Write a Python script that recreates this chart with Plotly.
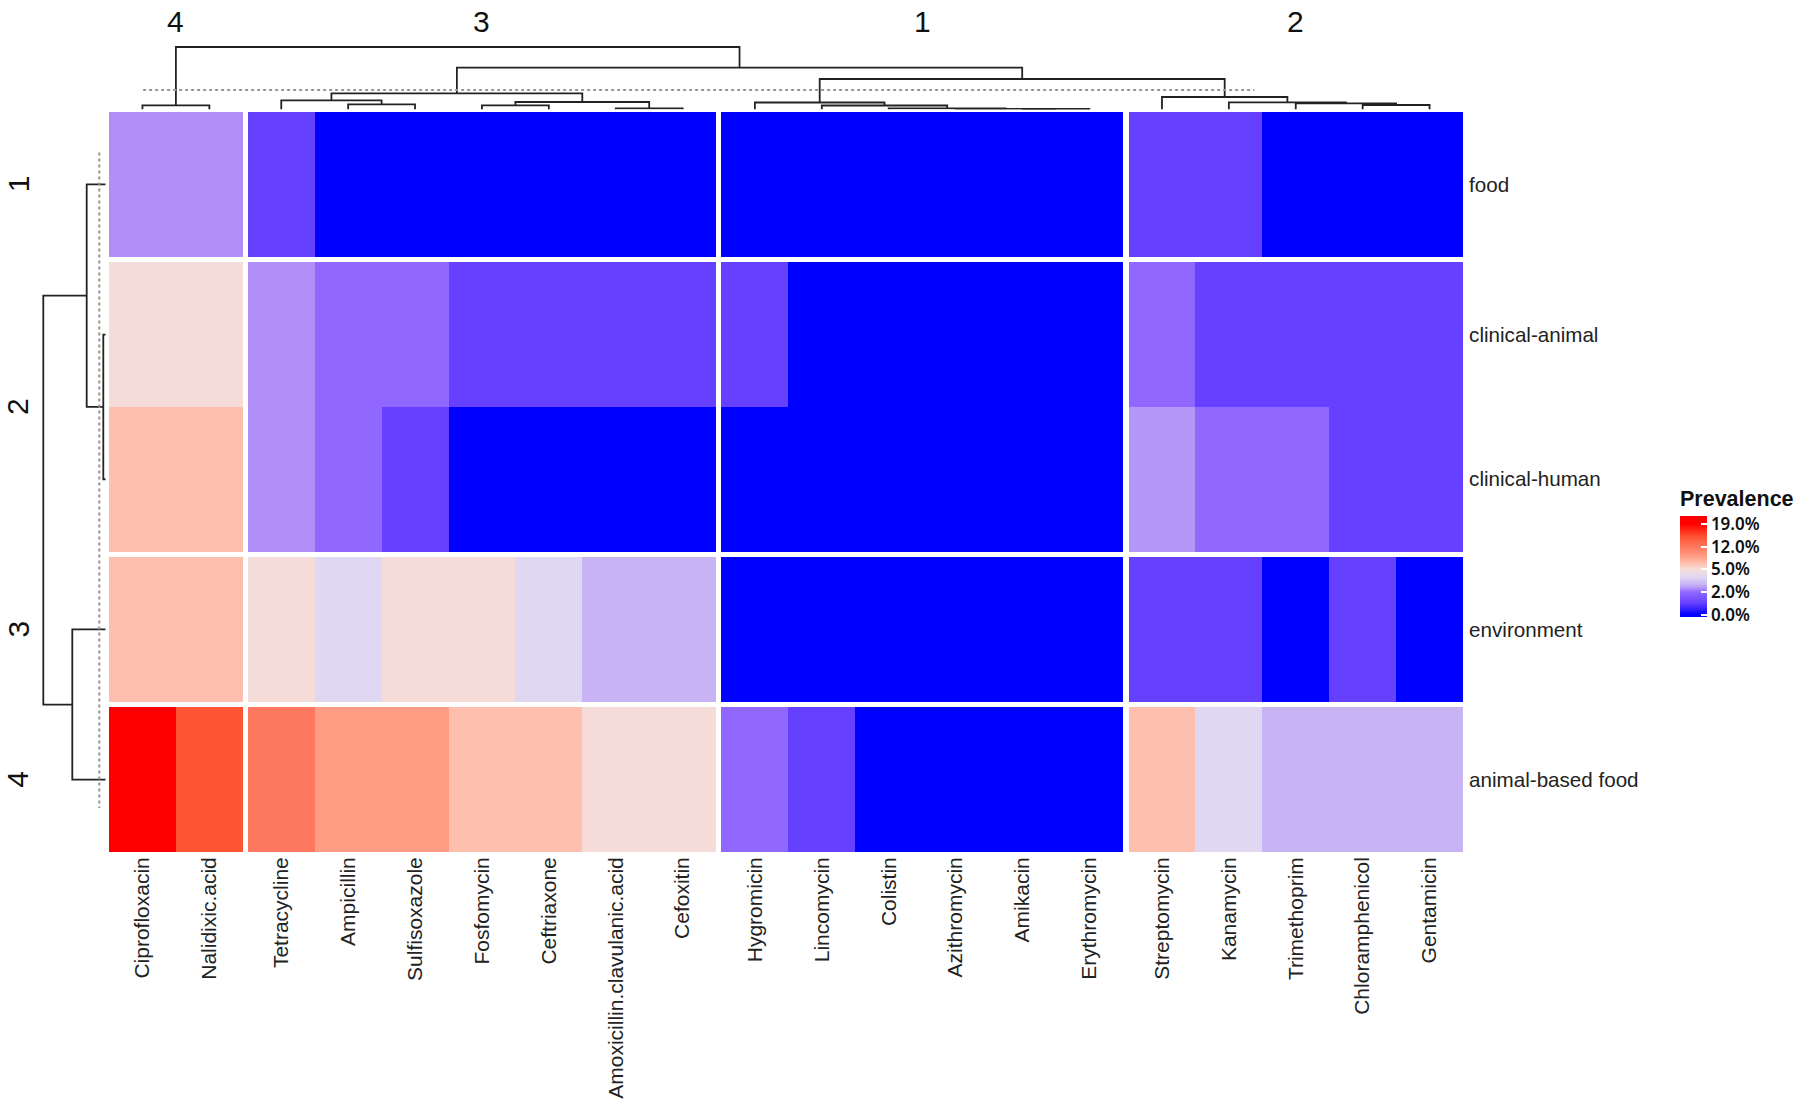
import numpy as np
import plotly.graph_objects as go

# Column and row names, in drawing order
antibiotics = ["Ciprofloxacin", "Nalidixic.acid", "Tetracycline", "Ampicillin", "Sulfisoxazole",
               "Fosfomycin", "Ceftriaxone", "Amoxicillin.clavulanic.acid", "Cefoxitin",
               "Hygromicin", "Lincomycin", "Colistin", "Azithromycin", "Amikacin", "Erythromycin",
               "Streptomycin", "Kanamycin", "Trimethoprim", "Chloramphenicol", "Gentamicin"]
sources = ["food", "clinical-animal", "clinical-human", "environment", "animal-based food"]

# Prevalence (%)
food = [2.5, 2.5, 1, 0, 0, 0, 0, 0, 0, 0, 0, 0, 0, 0, 0, 1, 1, 0, 0, 0]
clinical_animal = [5, 5, 2.5, 2, 2, 1, 1, 1, 1, 1, 0, 0, 0, 0, 0, 2, 1, 1, 1, 1]
clinical_human = [7, 7, 2.5, 2, 1, 0, 0, 0, 0, 0, 0, 0, 0, 0, 0, 2.6, 2, 2, 1, 1]
environment = [7, 7, 5, 4, 5, 5, 4, 3, 3, 0, 0, 0, 0, 0, 0, 1, 1, 0, 1, 0]
animal_food = [19, 15, 12, 9, 9, 7, 7, 5, 5, 2, 1, 0, 0, 0, 0, 7, 4, 3, 3, 3]
prevalence = [food, clinical_animal, clinical_human, environment, animal_food]

# Cluster splits
col_split_sizes = [2, 7, 6, 5]
col_split_labels = ["4", "3", "1", "2"]
row_split_sizes = [1, 2, 1, 1]
row_split_labels = ["1", "2", "3", "4"]

# Dendrograms: child a, child b, merge height. New nodes are numbered after the leaves.
col_merge_a = [0, 3, 2, 5, 7, 23, 22, 13, 12, 11, 10, 9, 18, 17, 16, 15, 31, 26, 20]
col_merge_b = [1, 4, 21, 6, 8, 24, 25, 14, 27, 28, 29, 30, 19, 32, 33, 34, 35, 36, 37]
col_merge_h = [4.2, 5.2, 9.2, 4.2, 1.2, 7.5, 16.2, 0.5, 0.7, 1.2, 4, 7, 4.5, 6.2, 7.2, 12.5, 30.5, 41.8, 62.5]
row_merge_a = [1, 0, 3, 6]
row_merge_b = [2, 5, 4, 7]
row_merge_h = [2.4, 19, 33.4, 62.4]
col_cut_h = 19.5
col_cut_span = [0.51, 17.12]
row_cut_h = 6.4
row_cut_span = [0.28, 4.81]

# Legend
legend_values = [0, 2, 5, 12, 19]
legend_labels = ["0.0%", "2.0%", "5.0%", "12.0%", "19.0%"]
color_values = [0, 1, 2, 2.5, 3, 4, 5, 7, 9, 12, 15, 19]
color_hex = ["#0000FF", "#6640FF", "#9068FF", "#B090F8", "#C8B4F4", "#E0D8F2",
             "#F6DCD8", "#FFBFAE", "#FF9C84", "#FF7860", "#FF5533", "#FF0000"]

W, H = 1800, 1105
COL_GAPS = [0.075, 0.08, 0.085]
ROW_GAP = 0.038


def px_x(p):
    return p / W


def px_y(p):
    return 1 - p / H


def to_scale(v):
    # legend ticks are evenly spaced, so the colours run on tick position
    return np.interp(v, legend_values, range(len(legend_values)))


def edges_with_gaps(sizes, gaps):
    # returns cell edges, gap flags and leaf centres for a split heatmap
    edges, centers, is_gap = [0.0], [], []
    for i, size in enumerate(sizes):
        for _ in range(size):
            centers.append(edges[-1] + 0.5)
            edges.append(edges[-1] + 1)
            is_gap.append(False)
        if i < len(sizes) - 1:
            edges.append(edges[-1] + gaps[i])
            is_gap.append(True)
    return edges, centers, is_gap


x_edges, x_centers, x_is_gap = edges_with_gaps(col_split_sizes, COL_GAPS)
y_edges, y_centers, y_is_gap = edges_with_gaps(row_split_sizes, [ROW_GAP] * 3)

# z with empty cells in the gaps
z = []
row_i = 0
for row_gap in y_is_gap:
    if row_gap:
        z.append([None] * len(x_is_gap))
        continue
    row, col_i = [], 0
    for col_gap in x_is_gap:
        if col_gap:
            row.append(None)
        else:
            row.append(float(to_scale(prevalence[row_i][col_i])))
            col_i += 1
    z.append(row)
    row_i += 1

zmin, zmax = -0.1, 4.35
colorscale = [[0, color_hex[0]]]
for val, col in zip(color_values, color_hex):
    colorscale.append([float((to_scale(val) - zmin) / (zmax - zmin)), col])
colorscale.append([1, color_hex[-1]])


def dendro_lines(centers, merge_a, merge_b, merge_h):
    pos = list(centers)
    height = [0.0] * len(centers)
    along, up = [], []
    for a, b, h in zip(merge_a, merge_b, merge_h):
        along += [pos[a], pos[a], pos[b], pos[b], None]
        up += [height[a], h, h, height[b], None]
        pos.append((pos[a] + pos[b]) / 2)
        height.append(h)
    return along, up


def split_middles(centers, sizes):
    out, start = [], 0
    for size in sizes:
        out.append((centers[start] + centers[start + size - 1]) / 2)
        start += size
    return out


fig = go.Figure()

fig.add_trace(go.Heatmap(
    x=x_edges, y=y_edges, z=z, zmin=zmin, zmax=zmax, colorscale=colorscale,
    hoverongaps=False,
    colorbar=dict(
        thickness=27, len=130, lenmode="pixels",
        x=px_x(1680), xanchor="left", xpad=0,
        y=px_y(487), yanchor="top", ypad=0,
        outlinewidth=0,
        tickmode="array", tickvals=list(range(5)), ticktext=legend_labels,
        ticks="inside", ticklen=6, tickcolor="white", tickwidth=1.5,
        tickfont=dict(family="Noto Sans", size=17, weight=600, color="#111111"),
        title=dict(text="<b>Prevalence</b>", side="top",
                   font=dict(family="Liberation Sans", size=21.5, color="#111111")),
    ),
))

# top dendrogram
col_x, col_h = dendro_lines(x_centers, col_merge_a, col_merge_b, col_merge_h)
fig.add_trace(go.Scatter(x=col_x, y=col_h, mode="lines", xaxis="x2", yaxis="y2",
                         line=dict(color="#222222", width=1.8), hoverinfo="skip", showlegend=False))
fig.add_trace(go.Scatter(x=col_cut_span, y=[col_cut_h, col_cut_h], mode="lines", xaxis="x2", yaxis="y2",
                         line=dict(color="#999999", width=2, dash="dot"), hoverinfo="skip", showlegend=False))

# left dendrogram
row_y, row_h = dendro_lines(y_centers, row_merge_a, row_merge_b, row_merge_h)
fig.add_trace(go.Scatter(x=row_h, y=row_y, mode="lines", xaxis="x3", yaxis="y3",
                         line=dict(color="#222222", width=1.8), hoverinfo="skip", showlegend=False))
fig.add_trace(go.Scatter(x=[row_cut_h, row_cut_h], y=row_cut_span, mode="lines", xaxis="x3", yaxis="y3",
                         line=dict(color="#999090", width=2, dash="dot"), hoverinfo="skip", showlegend=False))

x_domain = [px_x(109), px_x(1463)]
y_domain = [px_y(852), px_y(112)]
x_range = [0, x_edges[-1]]
y_range = [y_edges[-1], 0]
hidden = dict(visible=False, showgrid=False, zeroline=False)

fig.update_layout(
    width=W, height=H, margin=dict(l=0, r=0, t=0, b=0),
    paper_bgcolor="white", plot_bgcolor="white",
    font=dict(family="Liberation Sans", color="#222222"),
    showlegend=False,
    xaxis=dict(domain=x_domain, range=x_range, showgrid=False, zeroline=False,
               tickmode="array", tickvals=x_centers, ticktext=antibiotics, tickangle=-90,
               ticks="", ticklabelstandoff=0,
               tickfont=dict(size=21), anchor="y"),
    yaxis=dict(domain=y_domain, range=y_range, showgrid=False, zeroline=False, side="right",
               tickmode="array", tickvals=y_centers, ticktext=sources,
               ticks="outside", ticklen=1, tickcolor="rgba(0,0,0,0)",
               tickfont=dict(size=20.6), anchor="x"),
    xaxis2=dict(domain=x_domain, range=x_range, anchor="y2", **hidden),
    yaxis2=dict(domain=[px_y(109.5), px_y(39.5)], range=[0, 70], anchor="x2", **hidden),
    xaxis3=dict(domain=[px_x(30), px_x(105.7)], range=[75.7, 0], anchor="y3", **hidden),
    yaxis3=dict(domain=y_domain, range=y_range, anchor="x3", **hidden),
)

# cluster numbers
for pos, label in zip(split_middles(x_centers, col_split_sizes), col_split_labels):
    fig.add_annotation(x=pos, y=px_y(21), xref="x", yref="paper", text=label, showarrow=False,
                       font=dict(size=30, color="#111111"), yanchor="middle")
for pos, label in zip(split_middles(y_centers, row_split_sizes), row_split_labels):
    fig.add_annotation(x=px_x(18), y=pos, xref="paper", yref="y", text=label, showarrow=False,
                       font=dict(size=30, color="#111111"), textangle=-90, xanchor="center")

# drop the page's default body margin so the figure fills the window
fig.write_html("out.html", config={"displayModeBar": False},
               post_script="document.body.style.margin = '0';")
